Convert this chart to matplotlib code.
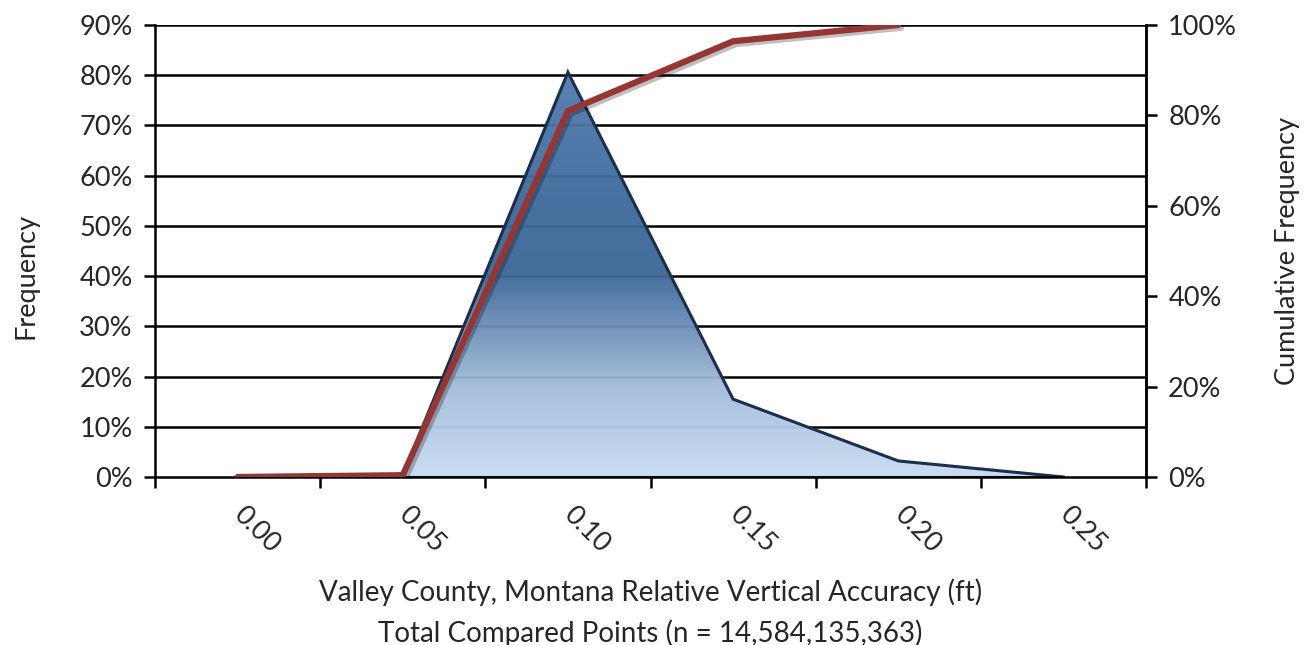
import matplotlib
matplotlib.use("Agg")
import matplotlib.pyplot as plt
import matplotlib.patheffects as pe
from matplotlib.patches import Polygon
from matplotlib.colors import LinearSegmentedColormap
import numpy as np

categories = ["0.00", "0.05", "0.10", "0.15", "0.20", "0.25"]
frequency = [0.0, 0.4, 80.6, 15.5, 3.2, 0.0]          # percent, left axis
cumulative = [0.0, 0.4, 81.0, 96.4, 100.0]            # percent, right axis (to 0.20)
left_ticks = [0, 10, 20, 30, 40, 50, 60, 70, 80, 90]
right_ticks = [0, 20, 40, 60, 80, 100]

FONT = "Lato"
plt.rcParams["font.family"] = [FONT, "DejaVu Sans"]
FS = 19.5
TXT = "#262626"

fig = plt.figure(figsize=(13.14, 6.45), dpi=100)
ax = fig.add_axes([155/1314, 1 - 477/645, (1146-155)/1314, (477-25)/645])
x = np.arange(len(categories))

ax.set_xlim(-0.5, len(categories) - 0.5)
ax.set_ylim(0, 90)

# gridlines
for v in left_ticks[1:]:
    ax.axhline(v, color="black", lw=1.8, zorder=1)

# gradient-filled area
verts = [(x[0], 0)] + list(zip(x, frequency)) + [(x[-1], 0)]
poly = Polygon(verts, closed=True, facecolor="none", edgecolor="none")
ax.add_patch(poly)
cmap = LinearSegmentedColormap.from_list(
    "g", [(0.0, "#c9dcf2"), (0.2, "#a3bcda"), (0.45, "#3d6799"),
          (0.6, "#3f6a9c"), (1.0, "#5a82b3")])
grad = np.linspace(0, 1, 256).reshape(-1, 1)
im = ax.imshow(grad, aspect="auto", cmap=cmap, origin="lower",
               extent=(-0.5, len(categories) - 0.5, 0, 90), zorder=2, alpha=0.96)
im.set_clip_path(poly)
ax.plot(x, frequency, color="#1b2f4c", lw=2.2, zorder=3,
        solid_joinstyle="miter")
ax.plot([x[0], x[-1]], [0, 0], color="#1b2f4c", lw=1.5, zorder=3)

# axes styling
ax.spines["top"].set_visible(False)
for s in ["left", "bottom", "right"]:
    ax.spines[s].set_linewidth(1.8)
    ax.spines[s].set_zorder(4)
ax.set_yticks(left_ticks)
ax.set_yticklabels([f"{v}%" for v in left_ticks], fontsize=FS, color=TXT)
ax.tick_params(axis="y", direction="out", length=8, width=1.8, pad=8)

ax.set_xticks(np.arange(-0.5, len(categories)))
ax.set_xticklabels([])
ax.tick_params(axis="x", which="major", direction="out", length=8, width=1.8)
ax.set_xticks(x, minor=True)
ax.set_xticklabels(categories, minor=True, rotation=-45, ha="left", va="center",
                   rotation_mode="anchor", fontsize=FS, color=TXT)
ax.tick_params(axis="x", which="minor", length=0, pad=24)

ax.set_ylabel("Frequency", fontsize=FS, color=TXT, labelpad=31)
ax.yaxis.set_label_coords(-0.118, 0.445)
ax.set_xlabel("Valley County, Montana Relative Vertical Accuracy (ft)\nTotal Compared Points (n = 14,584,135,363)",
              fontsize=20, color=TXT, labelpad=15, linespacing=1.6)

# cumulative line on secondary axis
ax2 = ax.twinx()
ax2.set_ylim(0, 100)
ax2.set_yticks(right_ticks)
ax2.set_yticklabels([f"{v}%" for v in right_ticks], fontsize=FS, color=TXT)
ax2.tick_params(axis="y", direction="out", length=8, width=1.8, pad=8)
for s in ["top", "left", "bottom"]:
    ax2.spines[s].set_visible(False)
ax2.spines["right"].set_linewidth(1.8)
ax2.plot(x[:len(cumulative)], cumulative, color="#963634", lw=4.5,
         solid_capstyle="round", solid_joinstyle="miter", zorder=5,
         path_effects=[pe.SimpleLineShadow(offset=(2, -2), alpha=0.25, shadow_color="black"),
                       pe.Normal()])
ax2.set_ylabel("Cumulative Frequency", fontsize=FS, color=TXT, labelpad=27)

fig.savefig("out.png", dpi=100, facecolor="white")
